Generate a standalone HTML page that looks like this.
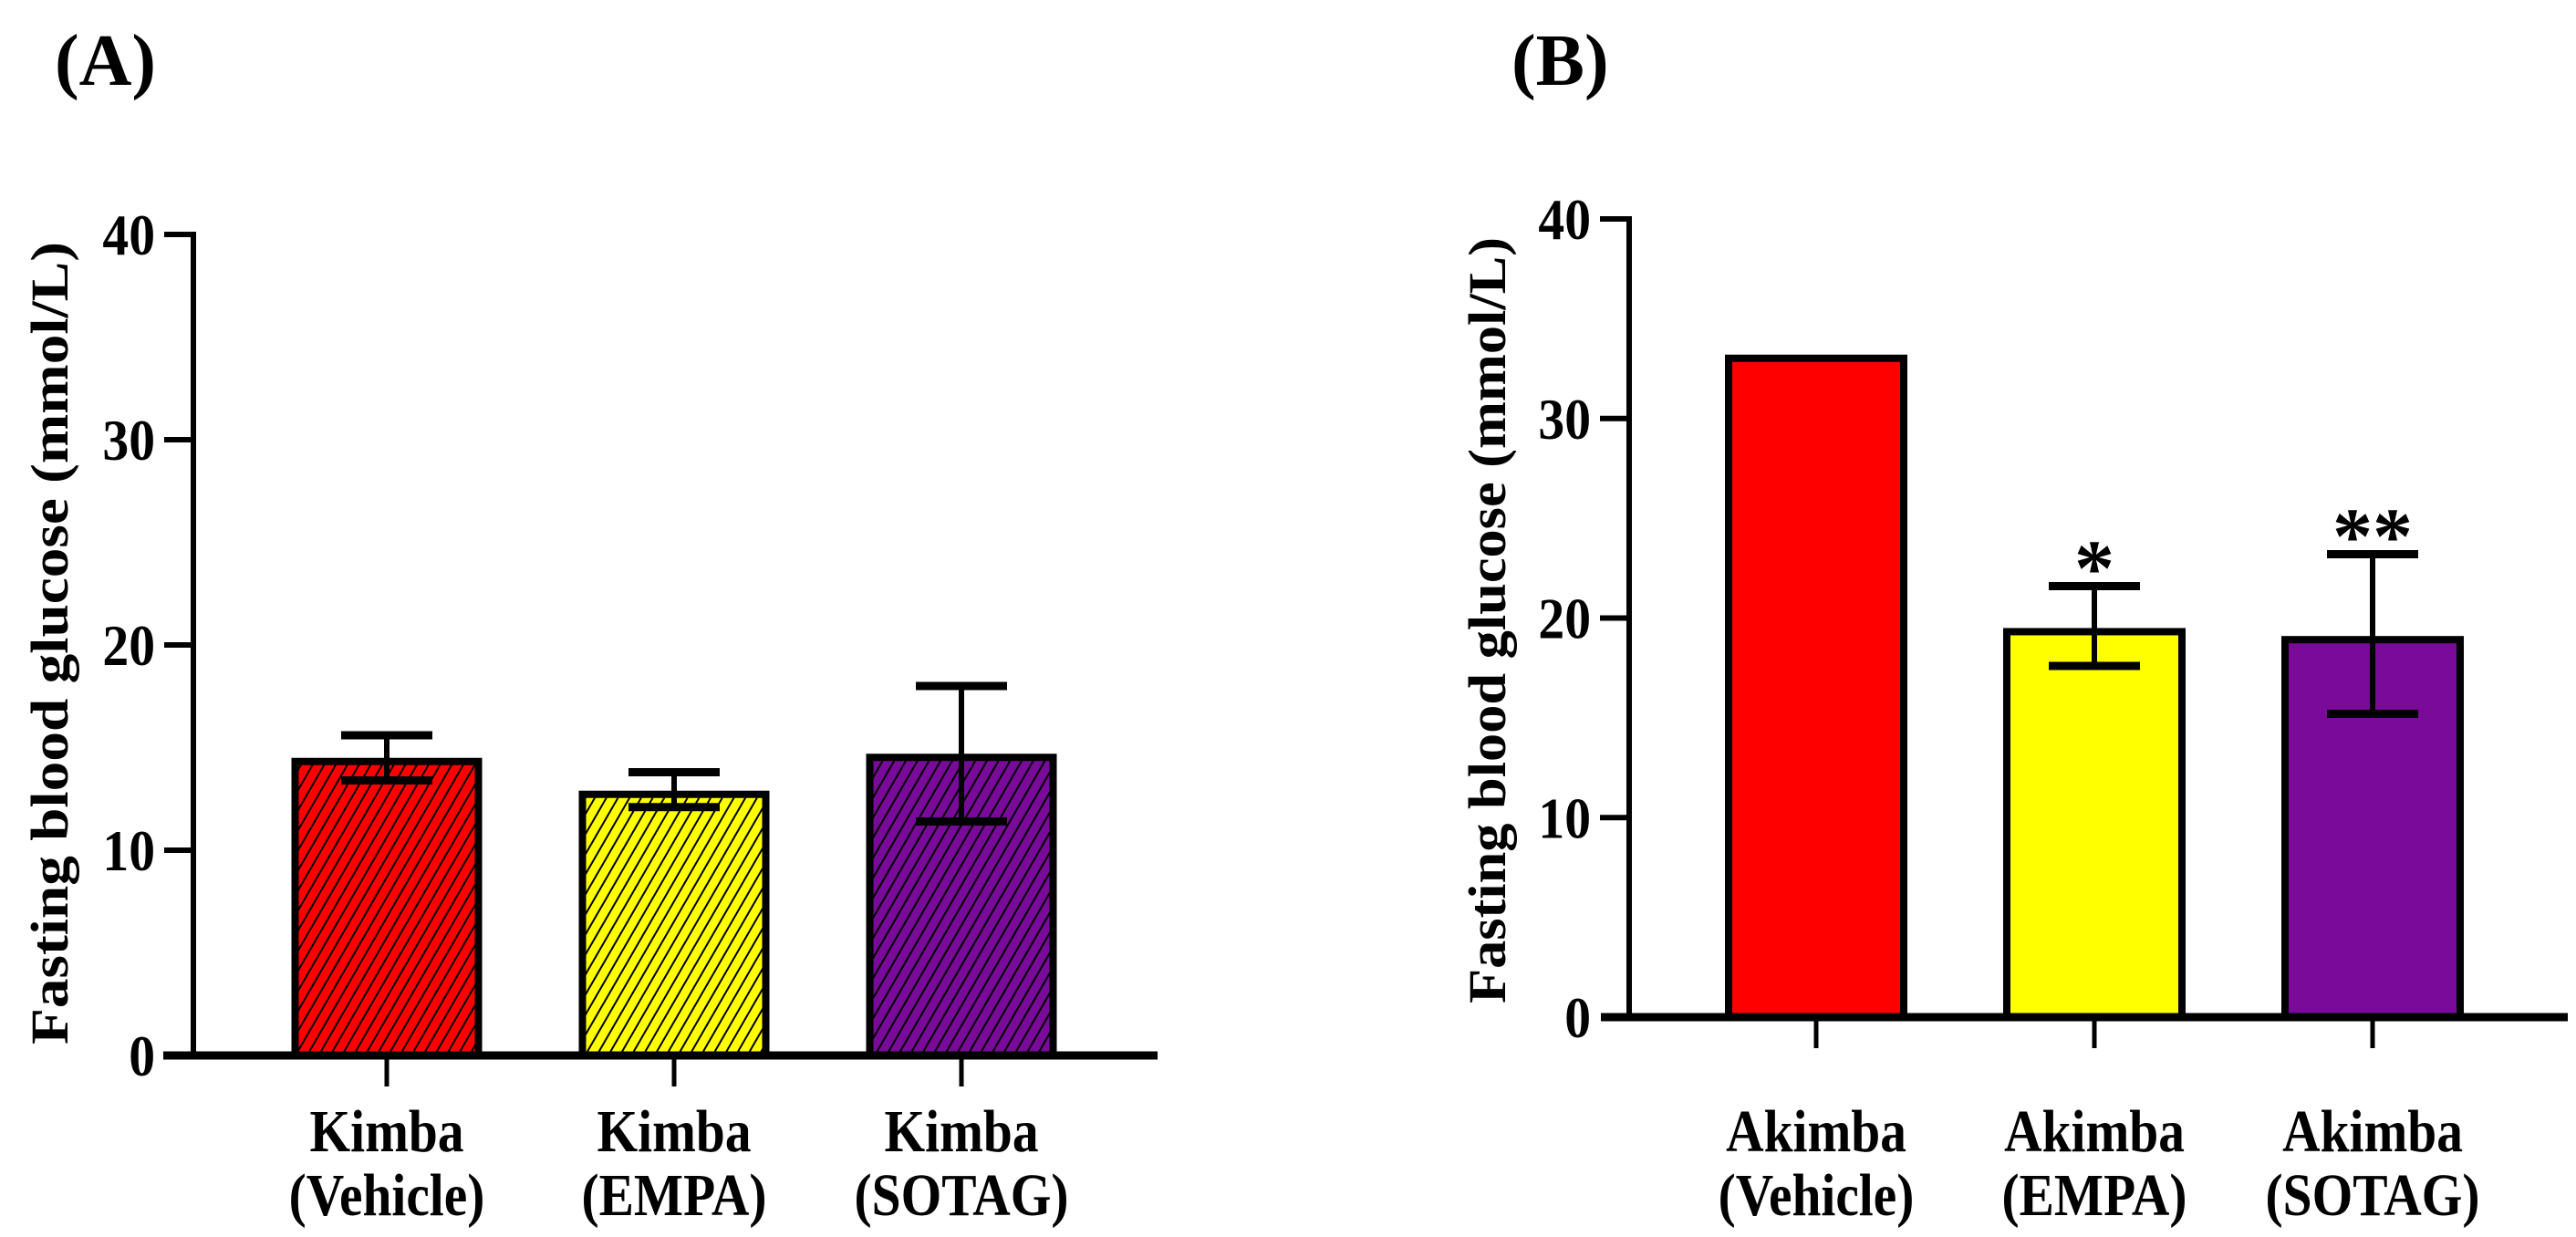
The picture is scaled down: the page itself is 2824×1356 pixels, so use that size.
<!DOCTYPE html>
<html><head><meta charset="utf-8">
<style>
html,body{margin:0;padding:0;background:#fff;}
svg{display:block;}
text{font-family:"Liberation Serif",serif;font-weight:bold;fill:#000;}
</style></head>
<body>
<svg id="fig" width="2824" height="1356" viewBox="0 0 2824 1356" xmlns="http://www.w3.org/2000/svg">
<defs>
<pattern id="hatch" patternUnits="userSpaceOnUse" width="11" height="11" patternTransform="rotate(30)">
<rect width="11" height="11" fill="none"/>
<line x1="0" y1="0" x2="0" y2="11" stroke="#000" stroke-width="4"/>
</pattern>
</defs>
<text x="60" y="93" font-size="80">(A)</text>
<text x="1657" y="93" font-size="80">(B)</text>
<g id="chartA"></g>
<g id="chartB"></g>
</svg>
<script>
const categoriesA = [["Kimba","(Vehicle)"],["Kimba","(EMPA)"],["Kimba","(SOTAG)"]];
const meansA = [14.5, 12.9, 14.7];
const errHighA = [15.6, 13.8, 18.0];
const errLowA = [13.4, 12.1, 11.4];
const categoriesB = [["Akimba","(Vehicle)"],["Akimba","(EMPA)"],["Akimba","(SOTAG)"]];
const meansB = [33.2, 19.5, 19.1];
const errHighB = [null, 21.6, 23.2];
const errLowB = [null, 17.6, 15.2];
const sigB = ["", "*", "**"];
const yTicks = [0, 10, 20, 30, 40];
const colors = ["#ff0000", "#ffff00", "#790a9a"];

const NS = "http://www.w3.org/2000/svg";
function mk(parent, tag, attrs){
  const e = document.createElementNS(NS, tag);
  for (const k in attrs) e.setAttribute(k, attrs[k]);
  parent.appendChild(e);
  return e;
}

function drawChart(g, cfg){
  const y = v => cfg.y0 - (v / 40) * (cfg.y0 - cfg.y40);
  const x = i => cfg.x0 + i * cfg.step;
  const ya = mk(g, "line", {x1:cfg.axisX, y1:y(40)-3, x2:cfg.axisX, y2:cfg.y0, stroke:"#000","stroke-width":6});
  
  
  yTicks.forEach(t => {
    if (t > 0) {
      const tk = mk(g, "line", {x1:cfg.axisX-32, y1:y(t), x2:cfg.axisX, y2:y(t), stroke:"#000","stroke-width":6});
      
      
    }
    const tl = mk(g, "text", {x:0, y:0, "font-size":64, "text-anchor":"end", transform:`translate(${cfg.axisX-42},${y(t)+22}) scale(0.9,1)`});
    tl.textContent = t;
    
    
  });
  const tt = mk(g, "text", {x:0, y:0, "font-size":58, "text-anchor":"middle", textLength:cfg.titleLen, lengthAdjust:"spacingAndGlyphs", transform:`translate(${cfg.titleX},${cfg.titleY}) rotate(-90)`});
  tt.textContent = "Fasting blood glucose (mmol/L)";
  
  
  cfg.means.forEach((m, i) => {
    const cx = x(i), w = cfg.barW;
    const bar = mk(g, "rect", {x:cx-w/2+4, y:y(m)+4, width:w-8, height:cfg.y0-y(m)-4, fill:colors[i], stroke:"#000","stroke-width":8});
    
    
    if (cfg.hatch) {
      const h = mk(g, "rect", {x:cx-w/2+8, y:y(m)+8, width:w-16, height:cfg.y0-y(m)-8, fill:"url(#hatch)"});
      
      
    }
  });
  cfg.means.forEach((m, i) => {
    if (cfg.hi[i] == null) return;
    const cx = x(i), cw = 50;
    const eg = mk(g, "g", {stroke:"#000","stroke-width":6});
    
    
    mk(eg, "line", {x1:cx, y1:y(cfg.hi[i]), x2:cx, y2:y(cfg.lo[i])});
    mk(eg, "line", {x1:cx-cw, y1:y(cfg.hi[i]), x2:cx+cw, y2:y(cfg.hi[i]), "stroke-width":9});
    mk(eg, "line", {x1:cx-cw, y1:y(cfg.lo[i]), x2:cx+cw, y2:y(cfg.lo[i]), "stroke-width":9});
    if (cfg.sig && cfg.sig[i]) {
      const s = mk(g, "text", {x:cx, y:y(cfg.hi[i])+10, "font-size":88, "text-anchor":"middle"});
      s.textContent = cfg.sig[i];
      
      
    }
  });
  const xa = mk(g, "line", {x1:cfg.xStart, y1:cfg.y0, x2:cfg.xEnd, y2:cfg.y0, stroke:"#000","stroke-width":9});
  
  
  cfg.cats.forEach((c, i) => {
    const cx = x(i);
    const tk = mk(g, "line", {x1:cx, y1:cfg.y0, x2:cx, y2:cfg.y0+34, stroke:"#000","stroke-width":5});
    
    
    c.forEach((line, j) => {
      const t = mk(g, "text", {x:0, y:0, "font-size":66, "text-anchor":"middle", transform:`translate(${cx},${cfg.labelY + j*70}) scale(0.87,1)`});
      t.textContent = line;
      
      
    });
  });
}

drawChart(document.getElementById("chartA"), {
  axisX:212, y0:1157, y40:257, x0:424, step:315, barW:209, hatch:true,
  means:meansA, hi:errHighA, lo:errLowA, cats:categoriesA,
  xStart:179, xEnd:1269, labelY:1262, titleX:74, titleY:705, titleLen:880
});
drawChart(document.getElementById("chartB"), {
  axisX:1786, y0:1115, y40:240, x0:1991, step:305, barW:200, hatch:false,
  means:meansB, hi:errHighB, lo:errLowB, cats:categoriesB, sig:sigB,
  xStart:1755, xEnd:2815, labelY:1262, titleX:1650, titleY:680, titleLen:840
});
</script>
</body></html>
